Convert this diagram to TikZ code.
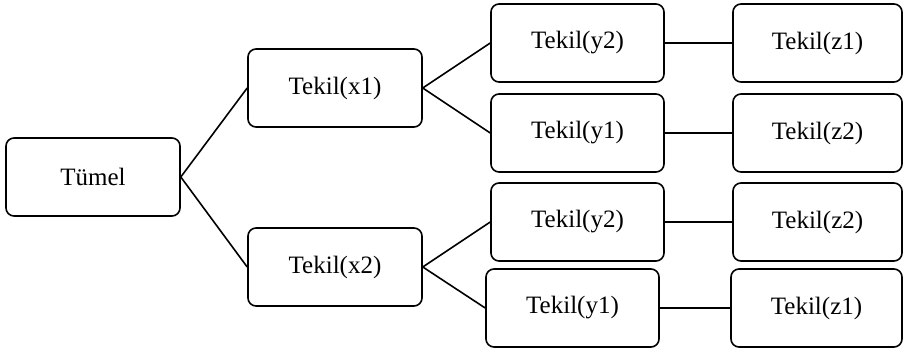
\documentclass[tikz,border=0pt]{standalone}
\usepackage{fontspec}
\setmainfont{Liberation Serif}
\begin{document}
\begin{tikzpicture}[x=1pt,y=-1pt,
  box/.style={draw, line width=1.6pt, rounded corners=8pt, inner sep=0pt,
    minimum height=78pt, font=\fontsize{25}{29}\selectfont},
  wbox/.style={box, minimum width=173pt},
  zbox/.style={box, minimum width=169pt},
  link/.style={line width=1.6pt}]
\useasboundingbox (0,0) rectangle (903,352);
\node[box, minimum width=174pt] (t) at (93,177) {Tümel};
\node[box, minimum width=174pt] (x1) at (335,88) {Tekil(x1)};
\node[box, minimum width=174pt] (x2) at (335,267) {Tekil(x2)};
\node[wbox] (y2a) at (577.5,43) {Tekil(y2)};
\node[wbox] (y1a) at (577.5,133) {Tekil(y1)};
\node[wbox] (y2b) at (577.5,222) {Tekil(y2)};
\node[wbox] (y1b) at (572.5,308) {Tekil(y1)};
\node[zbox] (z1a) at (817.5,43) {Tekil(z1)};
\node[zbox] (z2a) at (817.5,133) {Tekil(z2)};
\node[zbox] (z2b) at (817.5,222) {Tekil(z2)};
\node[zbox, minimum width=171pt] (z1b) at (816.5,308) {Tekil(z1)};
\draw[link] (t.east) -- (x1.west);
\draw[link] (t.east) -- (x2.west);
\draw[link] (x1.east) -- (y2a.west);
\draw[link] (x1.east) -- (y1a.west);
\draw[link] (x2.east) -- (y2b.west);
\draw[link] (x2.east) -- (y1b.west);
\draw[link] (y2a) -- (z1a);
\draw[link] (y1a) -- (z2a);
\draw[link] (y2b) -- (z2b);
\draw[link] (y1b) -- (z1b);
\end{tikzpicture}
\end{document}
